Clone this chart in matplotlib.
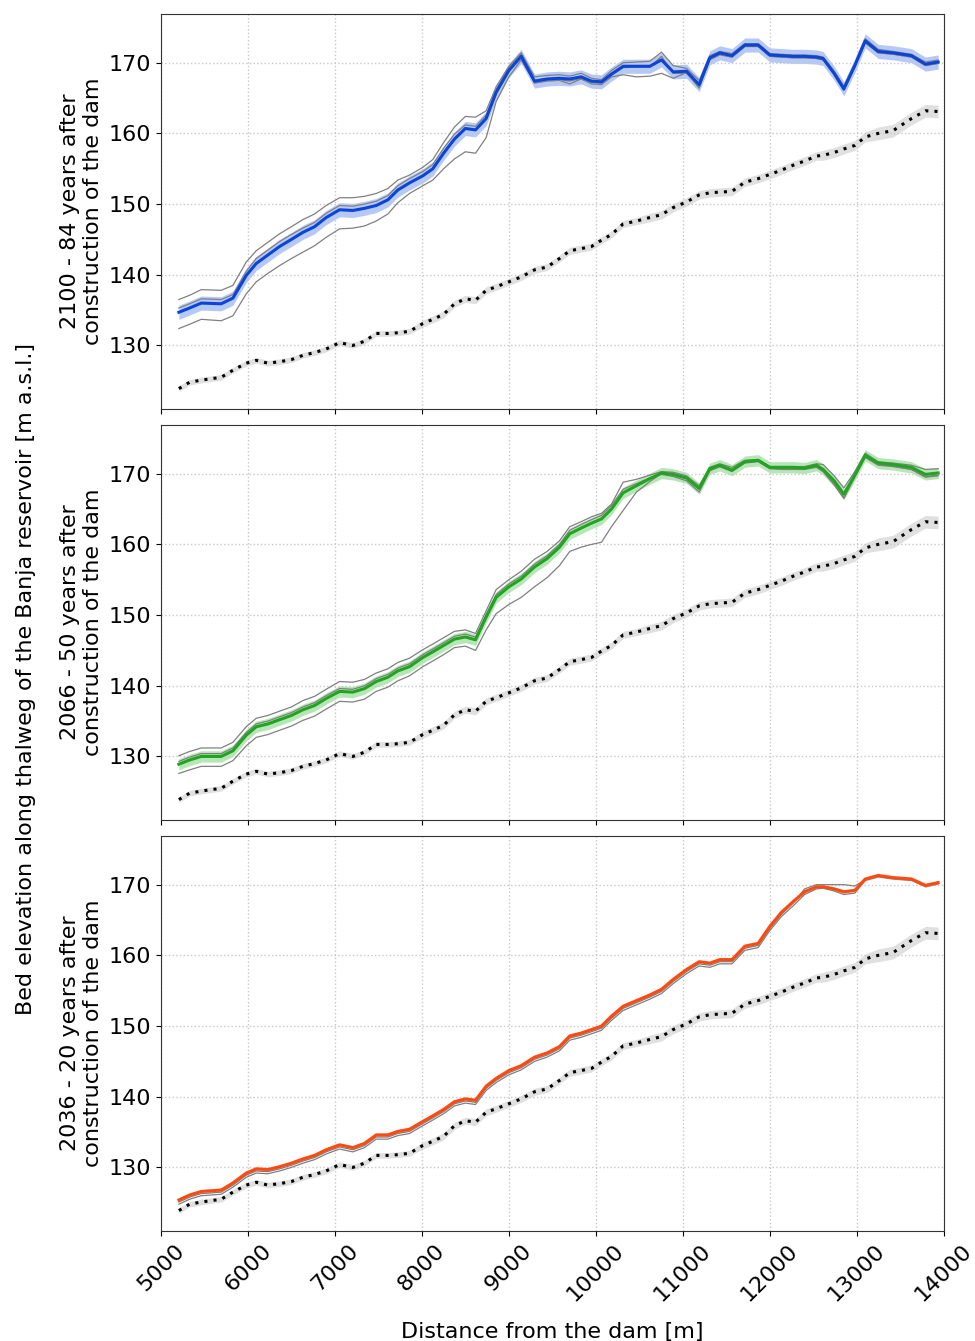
import matplotlib
matplotlib.use("Agg")
import matplotlib.pyplot as plt
import numpy as np

# distance from the dam [m] (model cross-sections)
dist = [5207, 5330, 5464, 5693, 5828, 5981, 6096, 6230, 6364, 6500,
        6632, 6766, 6900, 7054, 7207, 7340, 7475, 7609, 7724, 7858,
        8011, 8126, 8250, 8375, 8500, 8617, 8739, 8854, 9000, 9142,
        9295, 9440, 9582, 9700, 9830, 9950, 10065, 10180, 10314, 10467,
        10621, 10755, 10889, 11042, 11188, 11310, 11425, 11565, 11713, 11866,
        12000, 12134, 12268, 12400, 12536, 12613, 12740, 12851, 12977, 13097,
        13245, 13418, 13628, 13789, 13935]

# initial bed
bed = [123.9, 124.8, 125.1, 125.5, 126.5, 127.5, 127.9, 127.5, 127.7, 128.0,
       128.6, 129.0, 129.5, 130.4, 130.0, 130.6, 131.7, 131.7, 131.8, 132.0,
       133.1, 133.7, 134.4, 135.9, 136.6, 136.4, 137.8, 138.3, 139.0, 139.7,
       140.7, 141.1, 142.3, 143.4, 143.7, 144.0, 144.9, 145.7, 147.2, 147.6,
       148.1, 148.5, 149.5, 150.3, 151.3, 151.6, 151.7, 151.8, 153.1, 153.6,
       154.2, 154.8, 155.5, 156.1, 156.8, 156.9, 157.3, 157.8, 158.3, 159.5,
       160.0, 160.4, 162.1, 163.2, 163.1]
bed_spread = [0.4, 0.4, 0.4, 0.4, 0.4, 0.4, 0.4, 0.4, 0.4, 0.4,
              0.4, 0.4, 0.4, 0.4, 0.4, 0.4, 0.4, 0.4, 0.4, 0.4,
              0.5, 0.5, 0.5, 0.5, 0.5, 0.5, 0.5, 0.5, 0.5, 0.5,
              0.5, 0.5, 0.5, 0.5, 0.5, 0.5, 0.5, 0.5, 0.5, 0.5,
              0.6, 0.6, 0.6, 0.6, 0.6, 0.6, 0.6, 0.6, 0.6, 0.6,
              0.6, 0.6, 0.6, 0.6, 0.6, 0.7, 0.7, 0.7, 0.7, 0.7,
              0.9, 0.9, 0.9, 0.9, 0.9]

# 2100 scenario
y2100 = [134.7, 135.3, 136.0, 135.9, 136.7, 139.9, 141.6, 142.8, 144.0, 145.0,
         146.0, 146.8, 148.1, 149.2, 149.1, 149.4, 149.8, 150.6, 152.0, 153.0,
         154.0, 155.0, 157.2, 159.2, 160.7, 160.5, 162.1, 165.8, 168.9, 170.9,
         167.4, 167.7, 167.8, 167.7, 168.0, 167.4, 167.3, 168.4, 169.5, 169.5,
         169.5, 170.4, 168.7, 168.8, 166.9, 170.7, 171.4, 171.0, 172.5, 172.5,
         171.1, 171.0, 170.9, 170.9, 170.8, 170.6, 168.5, 166.3, 169.6, 173.1,
         171.6, 171.4, 171.0, 169.8, 170.1]
g2100_a = [136.5, 137.1, 137.9, 137.8, 138.5, 141.8, 143.4, 144.6, 145.8, 146.8,
           147.8, 148.6, 149.8, 150.9, 150.9, 151.1, 151.5, 152.2, 153.4, 154.1,
           155.2, 156.3, 158.7, 160.9, 162.4, 162.3, 163.2, 166.6, 169.5, 171.4,
           168.0, 168.2, 168.3, 168.1, 168.5, 167.8, 167.6, 168.9, 170.0, 170.1,
           170.2, 171.5, 169.6, 169.2, 167.5, 171.0, 171.6, 171.3, 172.7, 172.7,
           171.3, 171.2, 171.1, 171.1, 171.0, 170.8, 168.8, 166.7, 169.9, 173.4,
           171.9, 171.6, 171.2, 170.1, 170.4]
g2100_b = [135.3, 135.9, 136.6, 136.5, 137.2, 140.5, 142.3, 143.5, 144.7, 145.7,
           146.6, 147.4, 148.7, 149.8, 149.7, 150.0, 150.4, 151.2, 152.6, 153.6,
           154.6, 155.6, 157.9, 159.9, 161.2, 161.0, 162.6, 166.2, 169.3, 171.2,
           167.1, 167.4, 167.5, 167.0, 167.7, 167.0, 166.9, 168.0, 168.3, 168.0,
           168.1, 168.5, 167.8, 168.6, 166.4, 170.5, 171.2, 170.8, 172.3, 172.3,
           170.9, 170.8, 170.7, 170.7, 170.6, 170.4, 168.3, 166.1, 169.4, 172.8,
           171.4, 171.2, 170.8, 169.6, 169.9]
g2100_c = [132.4, 133.0, 133.7, 133.5, 134.2, 137.3, 139.0, 140.2, 141.3, 142.3,
           143.2, 144.1, 145.3, 146.5, 146.6, 146.9, 147.6, 148.6, 150.2, 151.5,
           152.6, 153.4, 155.0, 156.4, 157.4, 157.2, 159.4, 164.5, 168.0, 170.4,
           167.2, 167.5, 167.6, 167.4, 167.8, 167.2, 167.1, 168.2, 169.3, 169.4,
           169.4, 170.9, 168.5, 168.5, 166.6, 170.4, 171.1, 170.8, 172.3, 172.3,
           170.9, 170.8, 170.7, 170.7, 170.6, 170.4, 168.3, 166.1, 169.4, 172.9,
           171.4, 171.2, 170.8, 169.6, 169.9]

# 2066 scenario
y2066 = [128.9, 129.5, 130.0, 130.0, 130.8, 133.0, 134.2, 134.6, 135.2, 135.8,
         136.6, 137.2, 138.2, 139.2, 139.1, 139.6, 140.6, 141.2, 142.1, 142.7,
         144.0, 144.8, 145.7, 146.6, 146.9, 146.5, 149.7, 152.5, 154.0, 155.1,
         156.8, 158.0, 159.6, 161.5, 162.3, 163.0, 163.6, 165.0, 167.3, 168.3,
         169.3, 170.1, 169.9, 169.4, 167.9, 170.7, 171.2, 170.5, 171.7, 171.9,
         170.9, 170.9, 170.9, 170.8, 171.2, 170.6, 169.0, 167.1, 169.8, 172.6,
         171.5, 171.3, 170.9, 169.9, 170.1]
g2066_a = [130.1, 130.7, 131.2, 131.2, 132.0, 134.2, 135.4, 135.8, 136.4, 137.0,
           137.9, 138.5, 139.5, 140.6, 140.5, 140.9, 141.8, 142.4, 143.3, 143.9,
           145.1, 145.9, 146.8, 147.7, 147.9, 147.4, 150.6, 153.6, 155.0, 156.2,
           157.9, 159.0, 160.5, 162.5, 163.2, 163.9, 164.4, 165.7, 168.8, 169.2,
           169.8, 170.3, 170.2, 169.7, 168.3, 170.9, 171.4, 170.9, 171.9, 172.0,
           171.0, 171.0, 171.0, 171.0, 171.4, 171.3, 169.7, 168.0, 170.3, 172.9,
           171.7, 171.5, 171.2, 170.6, 170.7]
g2066_b = [129.3, 129.9, 130.4, 130.4, 131.2, 133.4, 134.6, 135.0, 135.6, 136.2,
           137.0, 137.6, 138.6, 139.6, 139.5, 140.0, 141.0, 141.6, 142.5, 143.1,
           144.4, 145.2, 146.1, 147.0, 147.3, 146.9, 150.1, 152.9, 154.4, 155.5,
           157.2, 158.4, 160.0, 162.0, 162.8, 163.5, 164.1, 165.5, 167.8, 168.6,
           169.4, 169.9, 169.6, 169.0, 167.4, 170.4, 171.0, 170.3, 171.5, 171.7,
           170.7, 170.6, 170.6, 170.6, 170.9, 170.3, 168.6, 166.6, 169.5, 172.3,
           171.2, 171.0, 170.6, 169.6, 169.8]
g2066_c = [127.6, 128.1, 128.6, 128.6, 129.4, 131.5, 132.7, 133.1, 133.7, 134.3,
           135.1, 135.7, 136.7, 137.8, 137.7, 138.1, 139.2, 139.8, 140.7, 141.4,
           142.7, 143.5, 144.4, 145.4, 145.6, 145.0, 147.9, 150.2, 151.5, 152.5,
           154.0, 155.3, 157.0, 159.0, 159.6, 160.0, 160.3, 162.5, 164.8, 167.4,
           168.9, 170.0, 169.8, 169.3, 167.8, 170.5, 171.0, 170.4, 171.6, 171.8,
           170.8, 170.7, 170.7, 170.7, 171.0, 170.3, 168.4, 166.5, 169.6, 172.4,
           171.3, 171.1, 170.6, 169.5, 169.7]

# 2036 scenario
y2036 = [125.4, 126.1, 126.6, 126.8, 127.8, 129.2, 129.8, 129.7, 130.1, 130.6,
         131.2, 131.7, 132.5, 133.2, 132.8, 133.4, 134.6, 134.6, 135.1, 135.4,
         136.5, 137.3, 138.2, 139.3, 139.7, 139.5, 141.5, 142.6, 143.7, 144.4,
         145.6, 146.2, 147.1, 148.6, 149.0, 149.5, 150.0, 151.4, 152.8, 153.6,
         154.4, 155.2, 156.6, 158.0, 159.1, 158.9, 159.4, 159.4, 161.3, 161.7,
         164.1, 166.1, 167.6, 169.0, 169.7, 169.7, 169.4, 169.0, 169.2, 170.8,
         171.3, 171.0, 170.8, 169.9, 170.3]
g2036_a = [125.1, 125.8, 126.3, 126.5, 127.5, 128.9, 129.5, 129.4, 129.8, 130.3,
           130.9, 131.4, 132.2, 132.9, 132.5, 133.1, 134.3, 134.3, 134.8, 135.1,
           136.2, 137.0, 137.9, 139.0, 139.4, 139.2, 141.2, 142.3, 143.4, 144.1,
           145.3, 145.9, 146.8, 148.3, 148.7, 149.2, 149.7, 151.1, 152.5, 153.3,
           154.1, 154.9, 156.3, 157.7, 158.8, 158.6, 159.1, 159.1, 161.0, 161.4,
           163.8, 165.8, 167.4, 169.4, 170.0, 170.0, 170.0, 170.0, 169.8, 170.7,
           171.2, 170.9, 170.7, 169.8, 170.2]
g2036_b = [124.8, 125.5, 126.0, 126.2, 127.2, 128.6, 129.2, 129.1, 129.5, 130.0,
           130.6, 131.1, 131.9, 132.6, 132.2, 132.8, 134.0, 134.0, 134.5, 134.8,
           135.9, 136.7, 137.6, 138.7, 139.1, 138.9, 140.9, 142.0, 143.1, 143.8,
           145.0, 145.6, 146.5, 148.0, 148.4, 148.9, 149.4, 150.8, 152.2, 153.0,
           153.8, 154.6, 156.0, 157.4, 158.5, 158.3, 158.8, 158.8, 160.7, 161.1,
           163.5, 165.5, 167.0, 168.6, 169.4, 169.5, 169.1, 168.6, 168.8, 170.6,
           171.1, 170.8, 170.6, 169.7, 170.1]

panels = [
    ("2100 - 84 years after\nconstruction of the dam", y2100, [g2100_a, g2100_b, g2100_c], "#0a44d8", "#6f95ee", 1.0),
    ("2066 - 50 years after\nconstruction of the dam", y2066, [g2066_a, g2066_b, g2066_c], "#1fa51f", "#6fcf6f", 0.8),
    ("2036 - 20 years after\nconstruction of the dam", y2036, [g2036_a, g2036_b], "#ff4a0f", "#ff9070", 0.25),
]

x = np.array(dist)
bed = np.array(bed)
bed_spread = np.array(bed_spread)

fig, axes = plt.subplots(3, 1, figsize=(9.75, 13.41), dpi=100, sharex=True)
fig.subplots_adjust(left=0.165, right=0.968, top=0.9896, bottom=0.082, hspace=0.04)

for ax, (label, y, grays, col, bandcol, spread) in zip(axes, panels):
    y = np.array(y)
    ax.fill_between(x, bed - bed_spread, bed + bed_spread, color="#d9d9d9", alpha=0.8, lw=0)
    ax.plot(x, bed, color="black", linestyle=(0, (1, 2)), lw=2.2)
    ax.fill_between(x, y - spread, y + spread, color=bandcol, alpha=0.5, lw=0)
    for g in grays:
        ax.plot(x, g, color="gray", lw=0.9)
    ax.plot(x, y, color=col, lw=2.2)
    ax.set_ylim(121.0, 176.9)
    ax.set_yticks([130, 140, 150, 160, 170])
    ax.set_ylabel(label, fontsize=16)
    ax.tick_params(labelsize=16)
    ax.grid(True, linestyle=":", color="#c8c8c8", lw=1)
    for s in ax.spines.values():
        s.set_color("#333333")

axes[-1].set_xlim(5000, 14000)
axes[-1].set_xticks(range(5000, 14001, 1000))
plt.setp(axes[-1].get_xticklabels(), rotation=45)
axes[-1].set_xlabel("Distance from the dam [m]", fontsize=16, labelpad=12)
fig.text(0.027, 0.494, "Bed elevation along thalweg of the Banja reservoir [m a.s.l.]",
         rotation=90, va="center", ha="center", fontsize=16)

fig.savefig("out.png", dpi=100)
